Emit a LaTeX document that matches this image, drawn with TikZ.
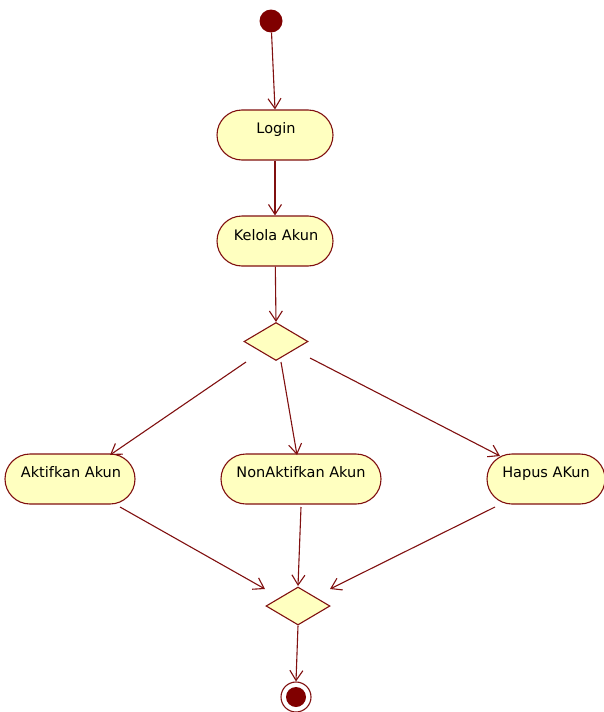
\documentclass[tikz,border=0pt]{standalone}
\usepackage{fontspec}
\setmainfont{DejaVu Sans}
\usetikzlibrary{shapes.geometric,arrows.meta}
\definecolor{umlline}{RGB}{128,16,16}
\definecolor{umlfill}{RGB}{255,255,192}
\definecolor{umldot}{RGB}{128,0,0}
\tikzset{
  act/.style={draw=umlline, fill=umlfill, line width=1.1pt, rounded corners=25pt, minimum height=50pt, inner sep=0pt},
  acttext/.style={font=\fontsize{14.5}{16}\selectfont, inner sep=0pt, anchor=base},
  dec/.style={draw=umlline, fill=umlfill, line width=1.1pt, diamond, aspect=1.7, inner sep=0pt, minimum width=64pt, minimum height=38pt},
  flow/.style={draw=umlline, line width=1.1pt, -{Straight Barb[length=10pt,width=13pt]}}
}
\begin{document}
\begin{tikzpicture}[x=1pt,y=-1pt]
\useasboundingbox (0,0) rectangle (604,712);
\node[circle, fill=umldot, minimum size=23pt, inner sep=0pt] (init) at (271,21) {};
\node[act, minimum width=116pt] (login) at (275,135) {};
\node[acttext] (tlogin) at (276,133) {Login};
\node[act, minimum width=116pt] (kelola) at (275,241) {};
\node[acttext] (tkelola) at (276,240) {Kelola Akun};
\node[dec] (d1) at (276,341.5) {};
\node[act, minimum width=130pt] (aktif) at (70,479) {};
\node[acttext] (taktif) at (71,477) {Aktifkan Akun};
\node[act, minimum width=160pt] (non) at (301,479) {};
\node[acttext] (tnon) at (301,477) {NonAktifkan Akun};
\node[act, minimum width=118pt] (hapus) at (546,479) {};
\node[acttext] (thapus) at (546,477) {Hapus AKun};
\node[dec] (d2) at (298,606) {};
\node[circle, draw=umlline, line width=1.1pt, fill=white, minimum size=30pt, inner sep=0pt] (fin) at (296,697) {};
\node[circle, fill=umldot, minimum size=20pt, inner sep=0pt] (finin) at (296,697) {};
\coordinate (s1) at (246,362);
\coordinate (s2) at (281,362);
\coordinate (s3) at (310,358);
\coordinate (e1) at (110,455);
\coordinate (e2) at (297,455);
\coordinate (e3) at (500,456);
\coordinate (a1) at (120,507);
\coordinate (a2) at (301,507);
\coordinate (a3) at (495,507);
\coordinate (m1) at (265,589);
\coordinate (m2) at (298,586);
\coordinate (m3) at (330,589);
\draw[flow] (init) -- (login.north);
\draw[flow] (login) -- (kelola);
\draw[flow] (kelola) -- (d1.north);
\draw[flow] (s1) -- (e1);
\draw[flow] (s2) -- (e2);
\draw[flow] (s3) -- (e3);
\draw[flow] (a1) -- (m1);
\draw[flow] (a2) -- (m2);
\draw[flow] (a3) -- (m3);
\draw[flow] (d2.south) -- (fin.north);
\end{tikzpicture}
\end{document}
